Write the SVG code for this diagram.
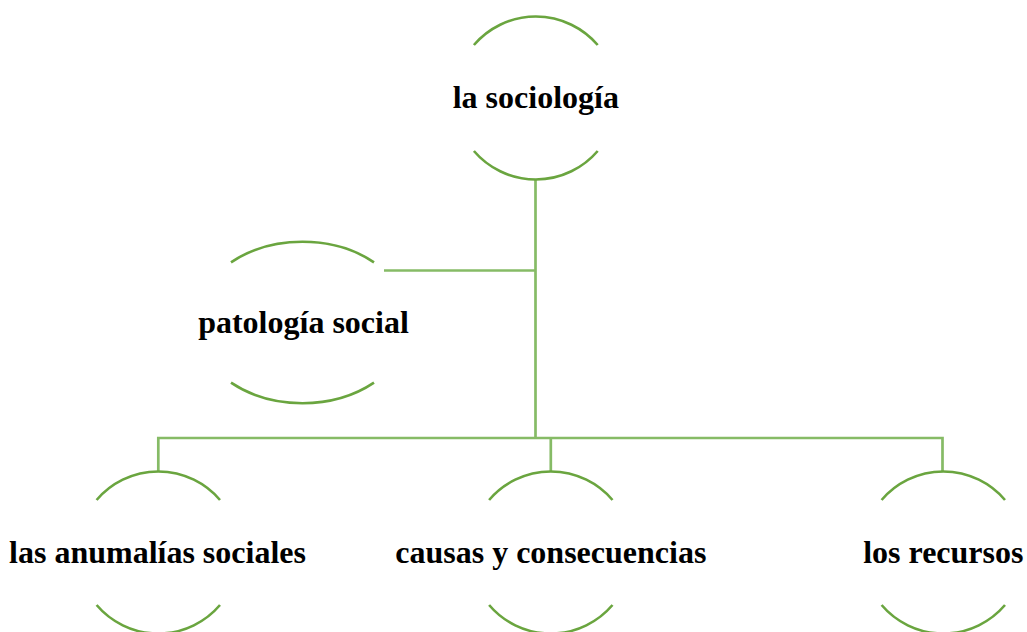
<svg xmlns="http://www.w3.org/2000/svg" width="1027" height="632" viewBox="0 0 1027 632">
<style>
.arc{fill:none;stroke:#6aa53f;stroke-width:2.6;}
.con{fill:none;stroke:#86bb66;stroke-width:2.7;}
.lbl{font-family:'Liberation Serif','Tinos','Times New Roman','DejaVu Serif',serif;font-weight:700;font-size:32px;fill:#000;text-anchor:middle;}
</style>
<rect width="1027" height="632" fill="#fff"/>
<g id="connectors">
<path class="con" d="M535.5 179 V438"/>
<path class="con" d="M384 270.5 H535.5"/>
<path class="con" d="M158.3 472 V438 H942.5 V472"/>
<path class="con" d="M550.8 438 V472"/>
</g>
<g id="node-sociologia">
<path class="arc" d="M473.9 45 A81.5 81.5 0 0 1 597.7 45"/>
<path class="arc" d="M597.7 151 A81.5 81.5 0 0 1 473.9 151"/>
<text class="lbl" x="535.8" y="108" font-family="Liberation Serif, serif">la sociología</text>
</g>
<g id="node-patologia">
<path class="arc" d="M231 262.3 A107.5 81 0 0 1 374 262.3"/>
<path class="arc" d="M374 382.7 A107.5 81 0 0 1 231 382.7"/>
<text class="lbl" x="303.5" y="333" font-family="Liberation Serif, serif">patología social</text>
</g>
<g id="node-anomalias">
<path class="arc" d="M96.6 500 A81 81 0 0 1 220 500"/>
<path class="arc" d="M220 605 A81 81 0 0 1 96.6 605"/>
<text class="lbl" x="157.5" y="563" font-family="Liberation Serif, serif">las anumalías sociales</text>
</g>
<g id="node-causas">
<path class="arc" d="M489.1 500 A81 81 0 0 1 612.5 500"/>
<path class="arc" d="M612.5 605 A81 81 0 0 1 489.1 605"/>
<text class="lbl" x="550.8" y="563" font-family="Liberation Serif, serif">causas y consecuencias</text>
</g>
<g id="node-recursos">
<path class="arc" d="M881.6 500 A81 81 0 0 1 1005 500"/>
<path class="arc" d="M1005 605 A81 81 0 0 1 881.6 605"/>
<text class="lbl" x="943.3" y="563" font-family="Liberation Serif, serif">los recursos</text>
</g>
</svg>
